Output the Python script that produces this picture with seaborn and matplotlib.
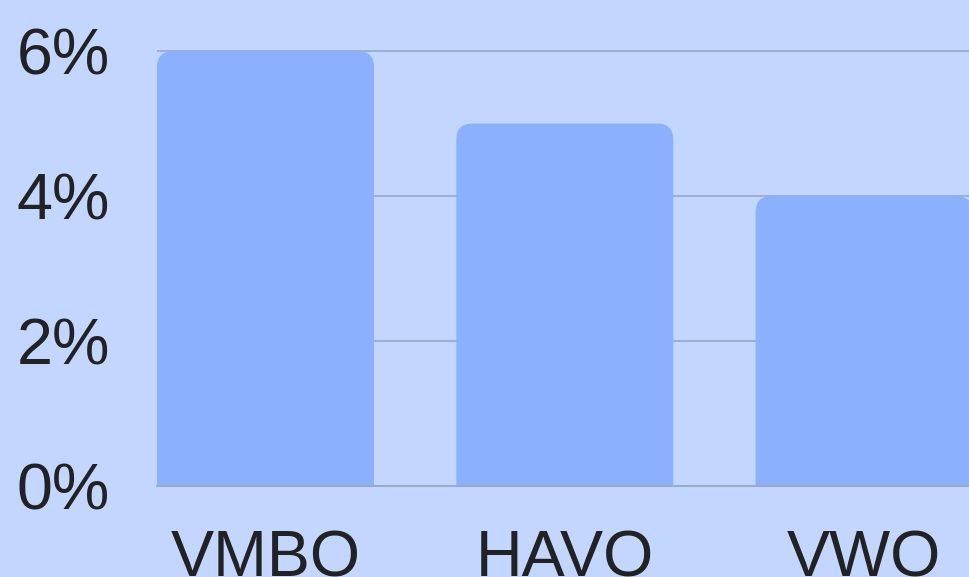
import numpy as np
import pandas as pd
import matplotlib
matplotlib.use('Agg')
import matplotlib.pyplot as plt
import seaborn as sns
from matplotlib.path import Path
from matplotlib.patches import PathPatch

levels = ['VMBO', 'HAVO', 'VWO']
share = [6, 5, 4]
yticks = [0, 2, 4, 6]

bg = '#c3d6ff'
bar_col = '#8ab0ff'
grid_col = '#9aaacb'

sns.set_theme(style='white')
plt.rcParams['font.family'] = ['Liberation Sans', 'DejaVu Sans']

df = pd.DataFrame({'level': levels, 'share': share})

fig = plt.figure(figsize=(9.70, 5.77), dpi=100, facecolor=bg)
ax = fig.add_axes([157/970, 1 - 486/577, 813/970, 486/577])
ax.set_facecolor(bg)

sns.barplot(data=df, x='level', y='share', color=bar_col, saturation=1,
            width=0.725, ax=ax, zorder=2)

ax.set_xlim(-0.3627, 2.354)
ax.set_ylim(0, 486/72.5)

# rounded top corners
rx, ry = 0.055, 0.225
for p in list(ax.patches):
    x0, y0 = p.get_x(), p.get_y()
    w, h = p.get_width(), p.get_height()
    x1, y1 = x0 + w, y0 + h
    verts = [(x0, y0), (x0, y1 - ry), (x0, y1), (x0 + rx, y1),
             (x1 - rx, y1), (x1, y1), (x1, y1 - ry), (x1, y0), (x0, y0)]
    codes = [Path.MOVETO, Path.LINETO, Path.CURVE3, Path.CURVE3,
             Path.LINETO, Path.CURVE3, Path.CURVE3, Path.LINETO, Path.CLOSEPOLY]
    ax.add_patch(PathPatch(Path(verts, codes), facecolor=bar_col,
                           edgecolor='none', zorder=2))
    p.remove()

for v in yticks[1:]:
    ax.axhline(v, color=grid_col, lw=1.3, zorder=1)
ax.axhline(0, color=grid_col, lw=1.5, zorder=3, clip_on=False)

ax.set_yticks(yticks)
ax.set_yticklabels([f'{v}%' for v in yticks])
ax.tick_params(axis='y', length=0, pad=34, labelsize=46.5, labelcolor='#222222')
ax.tick_params(axis='x', length=0, pad=31, labelsize=46.5, labelcolor='#222222')
ax.set_xlabel('')
ax.set_ylabel('')
for s in ax.spines.values():
    s.set_visible(False)

fig.savefig('out.png', dpi=100, facecolor=bg)
